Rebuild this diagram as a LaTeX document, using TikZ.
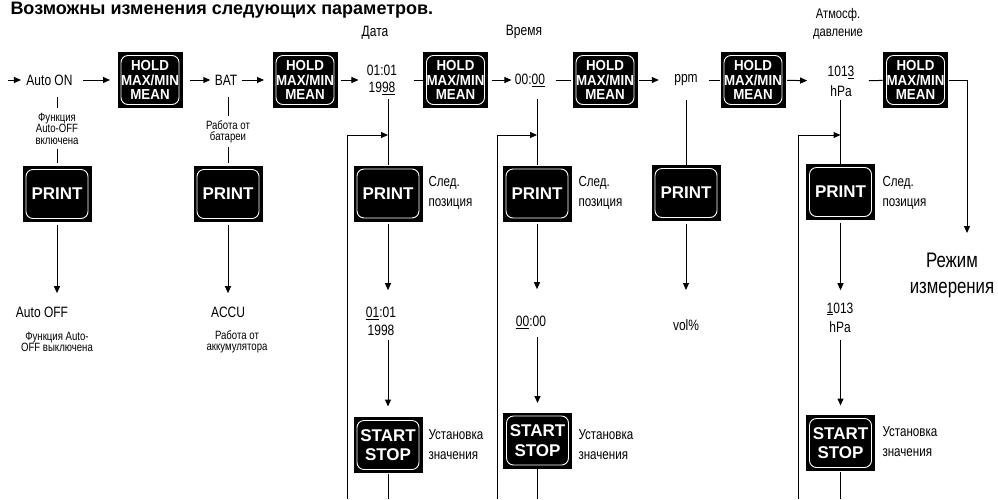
\documentclass[tikz,border=0pt]{standalone}
\usepackage{fontspec}
\setmainfont{Liberation Sans}[FakeStretch=0.8]
\newfontfamily\btnfont{Liberation Sans}[FakeStretch=0.92]
\newfontfamily\btnwide{Liberation Sans}
\newfontfamily\titlefont{Liberation Sans}
\usetikzlibrary{arrows.meta}
\begin{document}
\begin{tikzpicture}[x=1pt,y=-1pt,line width=1pt,
  arr/.style={-{Triangle[length=7pt,width=6pt]}},
  lbl/.style={inner sep=0pt,align=center,font=\fontsize{15}{17}\selectfont},
  sml/.style={inner sep=0pt,align=center,font=\fontsize{12}{11.5}\selectfont},
  note/.style={inner sep=0pt,align=left,anchor=west,font=\fontsize{14.5}{20}\selectfont},
  btnbase/.style={fill=black,text=white,inner sep=0pt,align=center,minimum width=68pt,minimum height=56pt,
    path picture={\draw[white,line width=0.9pt,rounded corners=7pt]
      ([xshift=3.5pt,yshift=-3.5pt]path picture bounding box.north west) rectangle
      ([xshift=-3.5pt,yshift=3.5pt]path picture bounding box.south east);}},
  hold/.style={btnbase,minimum width=65pt,font=\btnfont\fontsize{14.5}{14.5}\selectfont\bfseries},
  prt/.style={btnbase,minimum width=69pt,font=\btnwide\fontsize{17}{19.5}\selectfont\bfseries}
]
\useasboundingbox (0,0) rectangle (998,499);

% title
\node[anchor=base west,inner sep=0pt,font=\titlefont\fontsize{18}{20}\selectfont\bfseries] (title) at (10,14)
  {Возможны изменения следующих параметров.};

% main row
\coordinate (s0) at (8,80);
\node[lbl] (auto) at (49.5,80) {Auto ON};
\node[hold] (h1) at (150,80) {HOLD\\MAX/MIN\\MEAN};
\node[lbl] (bat) at (226,80) {BAT};
\node[hold] (h2) at (305,80) {HOLD\\MAX/MIN\\MEAN};
\node[lbl] (date) at (382,80) {01:01\\19\underline{98}};
\node[lbl] (datet) at (375,33) {Дата};
\node[hold] (h3) at (455.5,80) {HOLD\\MAX/MIN\\MEAN};
\node[lbl] (time) at (530,80) {00:\underline{00}};
\node[lbl] (timet) at (524,32) {Время};
\node[hold] (h4) at (605,80) {HOLD\\MAX/MIN\\MEAN};
\node[lbl] (ppm) at (686,80) {ppm};
\node[hold] (h5) at (753,80) {HOLD\\MAX/MIN\\MEAN};
\node[lbl,font=\fontsize{15}{20}\selectfont] (press) at (841,81) {101\underline{3}\\hPa};
\node[lbl,font=\fontsize{14}{18}\selectfont] (presst) at (838,24) {Атмосф.\\давление};
\node[hold] (h6) at (915.5,80) {HOLD\\MAX/MIN\\MEAN};

\draw[arr,shorten >=5pt] (s0) -- (auto);
\draw[arr,shorten <=10pt,shorten >=7pt] (auto) -- (h1);
\draw[arr,shorten <=7pt,shorten >=4pt] (h1) -- (bat);
\draw[arr,shorten <=4pt,shorten >=8pt] (bat) -- (h2);
\draw[arr,shorten <=3pt,shorten >=8pt] (h2) -- (date);
\draw[shorten <=16pt] (date) -- (h3);
\draw[arr,shorten <=3pt,shorten >=3pt] (h3) -- (time);
\draw[shorten <=10pt,shorten >=1pt] (time) -- (h4);
\draw[arr,shorten <=1pt,shorten >=15pt] (h4) -- (ppm);
\draw[shorten <=11pt] (ppm) -- (h5);
\draw[arr,shorten <=1pt,shorten >=20pt] (h5) -- (press);
\draw[shorten <=14pt] (press) -- (h6);

% Auto column
\node[sml] (fn1) at (57,128.5) {Функция\\Auto-OFF\\включена};
\draw[shorten <=11pt,shorten >=4pt] (auto.south -| fn1.north) -- (fn1.north);
\node[prt] (p1) at (57,194) {PRINT};
\draw[shorten <=4pt,shorten >=3pt] (fn1) -- (p1);
\node[lbl] (aoff) at (42,312) {Auto OFF};
\draw[arr,shorten <=2pt,shorten >=13pt] (p1) -- (p1 |- aoff.north);
\node[sml] (fn2) at (57,342) {Функция Auto-\\OFF выключена};

% BAT column
\node[sml] (bat1) at (228,132) {Работа от\\батареи};
\draw[shorten <=11pt,shorten >=4pt] (bat.south -| bat1.north) -- (bat1.north);
\node[prt] (p2) at (228,194) {PRINT};
\draw[shorten <=3pt,shorten >=3pt] (bat1) -- (p2);
\node[lbl] (accu) at (228,312) {ACCU};
\draw[arr,shorten <=2pt,shorten >=13pt] (p2) -- (accu);
\node[sml] (bat2) at (237,342) {Работа от\\аккумулятора};

% Date column
\node[prt] (p3) at (388,193.5) {PRINT};
\draw[shorten <=4pt] (date.south -| p3) -- (p3);
\coordinate (dj) at (388,135);
\coordinate (dl) at (347,499);
\draw[arr] (dl) |- (dj);
\node[note] (n1) at (428,193) {След.\\позиция};
\node[lbl,font=\fontsize{15}{18}\selectfont] (date2) at (381,321) {\underline{01}:01\\1998};
\draw[arr,shorten <=2pt,shorten >=16pt] (p3) -- (p3 |- date2.north);
\node[prt] (st1) at (388,445) {START\\STOP};
\draw[arr,shorten <=4pt,shorten >=10pt] (date2.south -| st1) -- (st1);
\coordinate (db) at (388,499);
\draw (st1) -- (db);
\node[note] (u1) at (428,444.5) {Установка\\значения};

% Time column
\node[prt] (p4) at (537,193.5) {PRINT};
\draw[shorten <=12pt] (time.south -| p4) -- (p4);
\coordinate (tj) at (537,135);
\coordinate (tl) at (497,499);
\draw[arr] (tl) |- (tj);
\node[note] (n2) at (578,193) {След.\\позиция};
\node[lbl] (time2) at (531,322) {\underline{00}:00};
\draw[arr,shorten <=2pt,shorten >=26pt] (p4) -- (p4 |- time2.north);
\node[prt] (st2) at (537.5,440.5) {START\\STOP};
\draw[arr,shorten <=8pt,shorten >=9pt] (time2.south -| st2) -- (st2);
\coordinate (tb) at (537.5,499);
\draw (st2) -- (tb);
\node[note] (u2) at (578,444.5) {Установка\\значения};

% ppm column
\node[prt] (p5) at (686,193) {PRINT};
\draw[shorten <=14pt] (ppm) -- (p5);
\node[lbl] (vol) at (686,325) {vol\%};
\draw[arr,shorten <=2pt,shorten >=29pt] (p5) -- (vol);

% Pressure column
\node[prt] (p6) at (840.5,192) {PRINT};
\draw[shorten <=3pt] (press.south -| p6) -- (p6);
\coordinate (pj) at (840.5,135);
\coordinate (pl) at (798,499);
\draw[arr] (pl) |- (pj);
\node[note] (n3) at (882,193) {След.\\позиция};
\node[lbl,font=\fontsize{15}{19}\selectfont] (press2) at (840,317.5) {\underline{1}013\\hPa};
\draw[arr,shorten <=2pt,shorten >=12pt] (p6) -- (p6 |- press2.north);
\node[prt] (st3) at (840.5,443) {START\\STOP};
\draw[arr,shorten <=7pt,shorten >=9pt] (press2.south -| st3) -- (st3);
\coordinate (pb) at (840.5,499);
\draw (st3) -- (pb);
\node[note] (u3) at (882,441.5) {Установка\\значения};

% end
\coordinate (mend) at (967,233);
\draw[arr] (h6) -| (mend);
\node[lbl,font=\fontsize{21}{26}\selectfont] (mode) at (952,275) {Режим\\измерения};
\end{tikzpicture}
\end{document}
